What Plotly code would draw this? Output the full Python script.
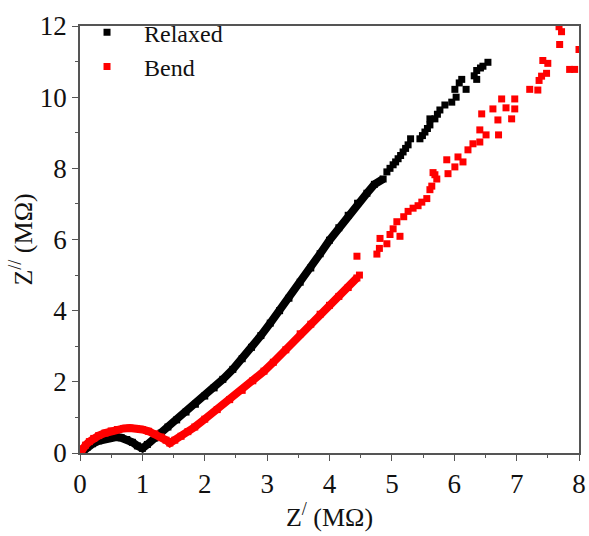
import plotly.graph_objects as go

# Relaxed: continuous part (semicircle + straight tail)
relaxed_dense_x = [0.02, 0.06, 0.12, 0.2, 0.3, 0.4, 0.5, 0.58, 0.66, 0.75, 0.84, 0.92, 1.0, 1.08, 1.2, 1.3,
                   1.41, 1.55, 1.7, 1.85, 2.0, 2.15, 2.29, 2.45, 2.6, 2.75, 2.9, 3.05, 3.2, 3.35, 3.53, 3.7,
                   3.85, 4.0, 4.15, 4.3, 4.45, 4.6, 4.72, 4.86]
relaxed_dense_y = [0.01, 0.08, 0.17, 0.26, 0.34, 0.40, 0.44, 0.45, 0.43, 0.38, 0.30, 0.20, 0.13, 0.24, 0.42, 0.56,
                   0.73, 0.93, 1.15, 1.37, 1.6, 1.83, 2.07, 2.35, 2.65, 2.97, 3.3, 3.65, 4.0, 4.35, 4.8, 5.2,
                   5.6, 5.98, 6.33, 6.68, 7.02, 7.3, 7.55, 7.7]
# Relaxed: scattered upper points
relaxed_sparse_x = [4.92, 4.97, 5.02, 5.06, 5.10, 5.14, 5.18, 5.22, 5.26, 5.30, 5.45, 5.49, 5.53, 5.57, 5.61,
                    5.61, 5.69, 5.73, 5.77, 5.85, 5.96, 6.03, 6.01, 6.19, 6.08, 6.12, 6.36, 6.32, 6.36, 6.42,
                    6.46, 6.54]
relaxed_sparse_y = [7.9, 8.0, 8.1, 8.18, 8.27, 8.36, 8.46, 8.56, 8.66, 8.83, 8.83, 8.92, 9.02, 9.12, 9.22,
                    9.39, 9.39, 9.52, 9.64, 9.78, 9.86, 10.0, 10.22, 10.22, 10.4, 10.5, 10.5, 10.6, 10.75, 10.82,
                    10.87, 10.98]

# Bend: continuous part
bend_dense_x = [0.01, 0.04, 0.09, 0.15, 0.22, 0.3, 0.4, 0.5, 0.6, 0.7, 0.8, 0.9, 1.0, 1.1, 1.2, 1.3, 1.38,
                1.44, 1.52, 1.62, 1.73, 1.84, 2.0, 2.2, 2.4, 2.6, 2.77, 2.95, 3.1, 3.3, 3.53, 3.7, 3.85, 4.0,
                4.15, 4.3, 4.44]
bend_dense_y = [0.02, 0.12, 0.22, 0.32, 0.41, 0.49, 0.56, 0.62, 0.66, 0.69, 0.70, 0.69, 0.66, 0.61, 0.54, 0.45,
                0.36, 0.28, 0.36, 0.47, 0.6, 0.73, 0.95, 1.22, 1.5, 1.76, 2.03, 2.3, 2.55, 2.9, 3.35, 3.62, 3.9,
                4.15, 4.4, 4.65, 4.92]
# Bend: scattered upper points
bend_sparse_x = [4.48, 4.44, 4.76, 4.80, 4.81, 4.92, 4.97, 5.13, 5.02, 5.08, 5.19, 5.26, 5.34, 5.42, 5.48,
                 5.56, 5.61, 5.64, 5.69, 5.72, 5.66, 5.88, 5.90, 6.01, 6.06, 6.14, 6.22, 6.30, 6.41, 6.41,
                 6.51, 6.44, 6.70, 6.71, 6.62, 6.76, 6.83, 6.92, 6.97, 6.97, 7.21, 7.34, 7.36, 7.40, 7.48,
                 7.42, 7.50, 7.69, 7.72, 7.68, 7.85, 7.93, 8.0]
bend_sparse_y = [5.0, 5.53, 5.59, 5.75, 6.03, 5.88, 6.14, 6.09, 6.3, 6.5, 6.64, 6.79, 6.88, 6.95, 7.05,
                 7.15, 7.4, 7.5, 7.82, 7.7, 7.88, 8.24, 7.85, 8.04, 8.32, 8.18, 8.52, 8.69, 8.74, 9.08,
                 8.94, 9.53, 9.36, 8.94, 9.67, 9.95, 9.70, 9.39, 9.95, 9.67, 10.22, 10.2, 10.47, 10.59, 10.67,
                 11.03, 10.95, 11.48, 11.84, 11.98, 10.78, 10.78, 11.34]

x_ticks = [0, 1, 2, 3, 4, 5, 6, 7, 8]
y_ticks = [0, 2, 4, 6, 8, 10, 12]

FONT = "Times New Roman, Liberation Serif, serif"
AX = "#555555"
TXT = "#111111"

fig = go.Figure()

def add_series(name, color, dx, dy, sx, sy):
    fig.add_trace(go.Scatter(x=dx, y=dy, mode="lines", line=dict(color=color, width=8),
                             showlegend=False, hoverinfo="skip"))
    fig.add_trace(go.Scatter(x=dx + sx, y=dy + sy, mode="markers", name=name,
                             marker=dict(symbol="square", size=7, color=color)))

add_series("Relaxed", "black", relaxed_dense_x, relaxed_dense_y, relaxed_sparse_x, relaxed_sparse_y)
add_series("Bend", "red", bend_dense_x, bend_dense_y, bend_sparse_x, bend_sparse_y)

axis_common = dict(showline=True, mirror=True, linecolor=AX, linewidth=1.5,
                   ticks="outside", ticklen=6, tickcolor=AX, tickwidth=1.2,
                   showgrid=False, zeroline=False, automargin=False,
                   tickfont=dict(family=FONT, size=27, color=TXT))

fig.update_xaxes(range=[0, 8], tickvals=x_ticks,
                 minor=dict(dtick=0.5, ticks="outside", ticklen=3, tickcolor=AX),
                 title=dict(text="Z<sup>/</sup> (MΩ)", font=dict(family=FONT, size=26, color=TXT),
                            standoff=1),
                 **axis_common)
fig.update_yaxes(range=[0, 12], tickvals=y_ticks,
                 minor=dict(dtick=1, ticks="outside", ticklen=3, tickcolor=AX),
                 title=dict(text="Z<sup>//</sup> (MΩ)", font=dict(family=FONT, size=26, color=TXT),
                            standoff=0),
                 **axis_common)

fig.update_layout(
    width=589, height=536,
    margin=dict(l=80, r=10, t=23, b=83),
    plot_bgcolor="white", paper_bgcolor="white",
    legend=dict(x=-0.02, y=1.037, xanchor="left", yanchor="top",
                font=dict(family=FONT, size=24, color=TXT),
                bgcolor="rgba(0,0,0,0)", itemwidth=64, tracegroupgap=0),
)

fig.write_html("out.html", config={"displayModeBar": False},
               post_script="document.body.style.margin='0';document.body.style.overflow='hidden';")
